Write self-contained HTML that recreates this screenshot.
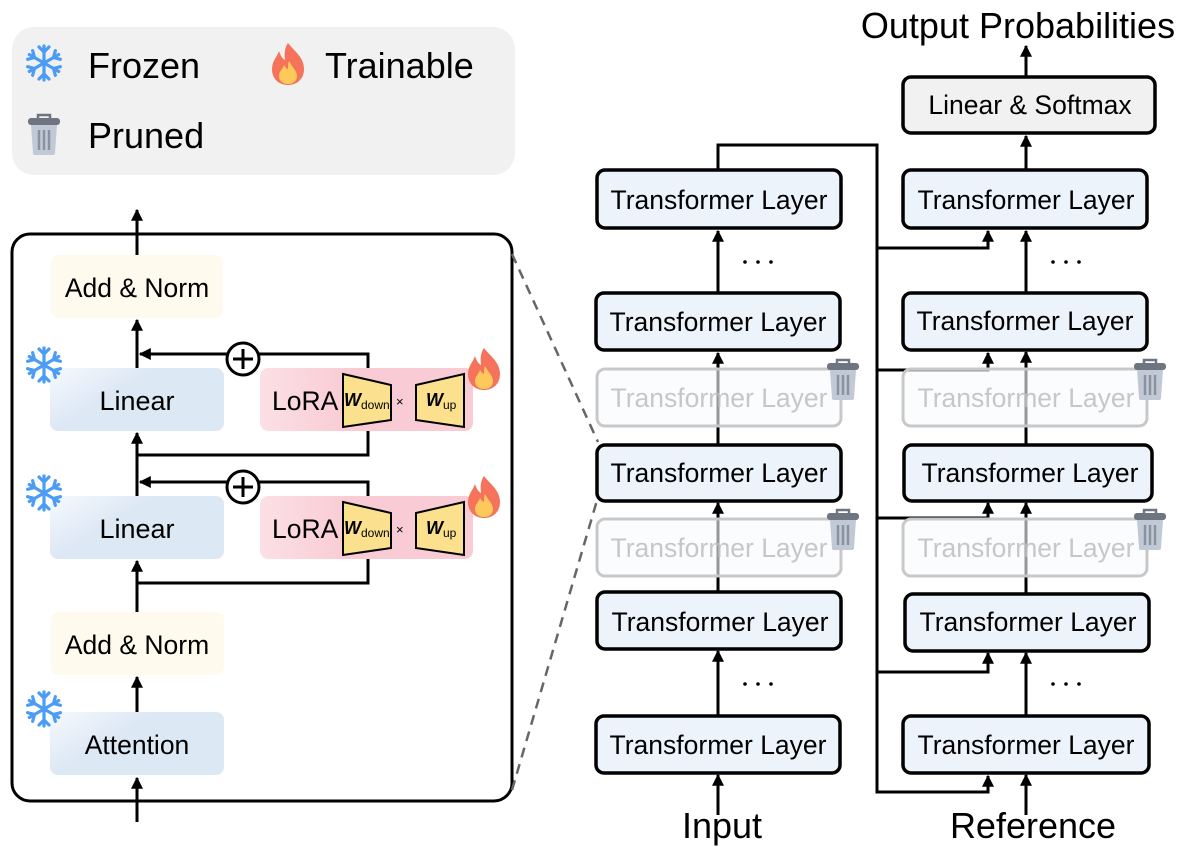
<!DOCTYPE html>
<html><head><meta charset="utf-8"><style>
html,body{margin:0;padding:0;background:#fff;}
svg{display:block;font-family:"Liberation Sans",Arial,sans-serif;}
</style></head><body>
<svg width="1187" height="847" viewBox="0 0 1187 847" xmlns="http://www.w3.org/2000/svg">
<defs>
<marker id="ah" viewBox="0 0 10 10" refX="9" refY="5" markerWidth="4" markerHeight="4" orient="auto" markerUnits="strokeWidth">
<path d="M0,0 L10,5 L0,10 z" fill="#000"/></marker>
<linearGradient id="blu" x1="0" y1="0" x2="1" y2="0.6">
<stop offset="0" stop-color="#f6f9fd"/><stop offset="0.45" stop-color="#dde8f5"/><stop offset="1" stop-color="#dde8f5"/></linearGradient>
<linearGradient id="pnk" x1="0" y1="0" x2="1" y2="0">
<stop offset="0" stop-color="#fbe0e6"/><stop offset="0.4" stop-color="#f9ccd5"/><stop offset="1" stop-color="#f9ccd5"/></linearGradient>
<g id="snow" stroke="#4a9cf5" stroke-width="3.2" stroke-linecap="round" fill="none">
<g id="arm"><line x1="0" y1="-17" x2="0" y2="17"/><polyline points="-5,-16 0,-11 5,-16"/><polyline points="-5,16 0,11 5,16"/></g>
<use href="#arm" transform="rotate(60)"/><use href="#arm" transform="rotate(-60)"/>
</g>
<g id="fire">
<path d="M0,-22 C6,-14 16,-8 16,4 C16,14 9,20 0,20 C-9,20 -16,14 -16,4 C-16,-4 -11,-8 -9,-14 C-7,-8 -5,-6 -3,-5 C-4,-12 -3,-18 0,-22 z" fill="#f4735a"/>
<path d="M1,-4 C4,2 9,6 9,11 C9,16 5,19 0,19 C-5,19 -9,16 -9,11 C-9,6 -5,4 -4,0 C-2,3 -1,4 0,4 C0,1 0,-2 1,-4 z" fill="#fdc95a"/>
</g>
<g id="trash">
<path d="M-6,-17 L-6,-20 L6,-20 L6,-17" fill="none" stroke="#6e7480" stroke-width="2.5"/>
<rect x="-16" y="-17" width="32" height="7" rx="3" fill="#6e7480"/>
<path d="M-13,-10 L13,-10 L11,18 Q11,20 9,20 L-9,20 Q-11,20 -11,18 z" fill="#c2c9d6"/>
<line x1="-5" y1="-5" x2="-5" y2="15" stroke="#8a92a0" stroke-width="2.5"/>
<line x1="0" y1="-5" x2="0" y2="15" stroke="#8a92a0" stroke-width="2.5"/>
<line x1="5" y1="-5" x2="5" y2="15" stroke="#8a92a0" stroke-width="2.5"/>
</g>
</defs>

<!-- legend -->
<rect x="12" y="27" width="503" height="148" rx="22" fill="#f1f1f1"/>
<use href="#snow" x="44" y="63"/>
<text x="88" y="78" font-size="36">Frozen</text>
<use href="#fire" x="288" y="65"/>
<text x="325" y="78" font-size="36">Trainable</text>
<use href="#trash" x="44" y="135"/>
<text x="88" y="148" font-size="36">Pruned</text>

<!-- left detail box -->
<rect x="12" y="234" width="500" height="567" rx="18" fill="none" stroke="#000" stroke-width="3"/>
<line x1="512" y1="254" x2="598" y2="442" stroke="#666" stroke-width="2.5" stroke-dasharray="10,7"/>
<line x1="512" y1="790" x2="598" y2="497" stroke="#666" stroke-width="2.5" stroke-dasharray="10,7"/>

<g stroke="#000" stroke-width="3" fill="none">
<line x1="137" y1="255" x2="137" y2="210" marker-end="url(#ah)"/>
<line x1="137" y1="368" x2="137" y2="320" marker-end="url(#ah)"/>
<polyline points="368,368 368,354 140,354" marker-end="url(#ah)"/>
<polyline points="368,431 368,455 137,455"/>
<line x1="137" y1="496" x2="137" y2="433" marker-end="url(#ah)"/>
<polyline points="368,496 368,482 140,482" marker-end="url(#ah)"/>
<polyline points="368,558 368,583 137,583"/>
<line x1="137" y1="612" x2="137" y2="561" marker-end="url(#ah)"/>
<line x1="137" y1="712" x2="137" y2="677" marker-end="url(#ah)"/>
<line x1="137" y1="822" x2="137" y2="778" marker-end="url(#ah)"/>
</g>

<rect x="51" y="255" width="172" height="63" rx="8" fill="#fefaee"/>
<text x="137" y="297" font-size="26.5" text-anchor="middle">Add &amp; Norm</text>
<rect x="50" y="368" width="174" height="63" rx="8" fill="url(#blu)"/>
<text x="137" y="410" font-size="27" text-anchor="middle">Linear</text>
<rect x="50" y="496" width="174" height="63" rx="8" fill="url(#blu)"/>
<text x="137" y="538" font-size="27" text-anchor="middle">Linear</text>
<rect x="51" y="612" width="173" height="63" rx="8" fill="#fefaee"/>
<text x="137" y="654" font-size="26.5" text-anchor="middle">Add &amp; Norm</text>
<rect x="50" y="712" width="174" height="63" rx="8" fill="url(#blu)"/>
<text x="137" y="754" font-size="26.5" text-anchor="middle">Attention</text>
<use href="#snow" x="44" y="365"/>
<use href="#snow" x="44" y="493"/>
<use href="#snow" x="44" y="709"/>

<!-- LoRA blocks -->
<g id="lora1">
<rect x="260" y="368" width="213" height="63" rx="8" fill="url(#pnk)"/>
<text x="272" y="410" font-size="26.5">LoRA</text>
<polygon points="343,374 391,385 391,420 343,427" fill="#fbe08e" stroke="#000" stroke-width="2"/>
<text x="344" y="406" font-size="18" font-weight="bold" font-style="italic">W<tspan font-size="12" font-weight="normal" font-style="normal" dy="3">down</tspan></text>
<text x="396" y="406" font-size="13">×</text>
<polygon points="416,385 464,374 464,427 416,420" fill="#fbe08e" stroke="#000" stroke-width="2"/>
<text x="426" y="406" font-size="18" font-weight="bold" font-style="italic">W<tspan font-size="12" font-weight="normal" font-style="normal" dy="3">up</tspan></text>
<use href="#fire" x="484" y="370"/>
</g>
<use href="#lora1" y="128"/>
<g stroke="#000" stroke-width="3" fill="#fff">
<circle cx="243" cy="359" r="16"/><circle cx="243" cy="487" r="16"/>
<path d="M233,359 h20 M243,349 v20 M233,487 h20 M243,477 v20" fill="none"/>
</g>

<!-- right side connectors -->
<g stroke="#000" stroke-width="3" fill="none">
<line x1="1026" y1="77" x2="1026" y2="46" marker-end="url(#ah)"/>
<line x1="1026" y1="170" x2="1026" y2="136" marker-end="url(#ah)"/>
<polyline points="718,170 718,145 877,145 877,792 988,792 988,776" marker-end="url(#ah)"/>
<polyline points="877,248 988,248 988,231" marker-end="url(#ah)"/>
<polyline points="877,370 988,370 988,353" marker-end="url(#ah)"/>
<polyline points="877,518 988,518 988,503" marker-end="url(#ah)"/>
<polyline points="877,672 988,672 988,653" marker-end="url(#ah)"/>
<line x1="718" y1="293" x2="718" y2="231" marker-end="url(#ah)"/>
<line x1="718" y1="445" x2="718" y2="353" marker-end="url(#ah)"/>
<line x1="718" y1="592" x2="718" y2="503" marker-end="url(#ah)"/>
<line x1="718" y1="716" x2="718" y2="651" marker-end="url(#ah)"/>
<line x1="718" y1="815" x2="718" y2="775" marker-end="url(#ah)"/>
<line x1="1026" y1="293" x2="1026" y2="231" marker-end="url(#ah)"/>
<line x1="1026" y1="445" x2="1026" y2="352" marker-end="url(#ah)"/>
<line x1="1026" y1="594" x2="1026" y2="503" marker-end="url(#ah)"/>
<line x1="1026" y1="716" x2="1026" y2="653" marker-end="url(#ah)"/>
<line x1="1026" y1="815" x2="1026" y2="775" marker-end="url(#ah)"/>
</g>
<g fill="#000">
<circle cx="745" cy="262" r="1.8"/><circle cx="758" cy="262" r="1.8"/><circle cx="771" cy="262" r="1.8"/>
<circle cx="745" cy="684" r="1.8"/><circle cx="758" cy="684" r="1.8"/><circle cx="771" cy="684" r="1.8"/>
<circle cx="1053" cy="262" r="1.8"/><circle cx="1066" cy="262" r="1.8"/><circle cx="1079" cy="262" r="1.8"/>
<circle cx="1053" cy="684" r="1.8"/><circle cx="1066" cy="684" r="1.8"/><circle cx="1079" cy="684" r="1.8"/>
</g>

<!-- pruned boxes -->
<g fill="#f8fafd" fill-opacity="0.6" stroke="#c8c8c8" stroke-width="3">
<rect x="597" y="369" width="244" height="57" rx="8"/>
<rect x="597" y="519" width="244" height="57" rx="8"/>
<rect x="903" y="369" width="244" height="57" rx="8"/>
<rect x="903" y="519" width="244" height="57" rx="8"/>
</g>
<g font-size="26.5" fill="#bdbdbd" fill-opacity="0.85" text-anchor="middle">
<text x="719" y="407">Transformer Layer</text><text x="719" y="557">Transformer Layer</text>
<text x="1026" y="407">Transformer Layer</text><text x="1026" y="557">Transformer Layer</text>
</g>
<use href="#trash" x="843" y="380"/><use href="#trash" x="843" y="530"/>
<use href="#trash" x="1150" y="380"/><use href="#trash" x="1150" y="530"/>

<!-- active boxes -->
<g fill="#edf3fb" stroke="#000" stroke-width="3.5">
<rect x="597" y="170" width="244" height="58" rx="8"/>
<rect x="596" y="293" width="244" height="57" rx="8"/>
<rect x="597" y="445" width="244" height="56" rx="8"/>
<rect x="597" y="592" width="244" height="57" rx="8"/>
<rect x="596" y="716" width="244" height="57" rx="8"/>
<rect x="903" y="170" width="244" height="58" rx="8"/>
<rect x="903" y="293" width="244" height="57" rx="8"/>
<rect x="904" y="445" width="248" height="56" rx="8"/>
<rect x="905" y="594" width="244" height="57" rx="8"/>
<rect x="903" y="716" width="246" height="57" rx="8"/>
</g>
<rect x="903" y="77" width="252" height="56" rx="8" fill="#f1f1f1" stroke="#000" stroke-width="3.5"/>
<g font-size="26.5" fill="#000" text-anchor="middle">
<text x="1030" y="114">Linear &amp; Softmax</text>
<text x="719" y="209">Transformer Layer</text>
<text x="718" y="331">Transformer Layer</text>
<text x="719" y="482">Transformer Layer</text>
<text x="720" y="631">Transformer Layer</text>
<text x="718" y="754">Transformer Layer</text>
<text x="1026" y="209">Transformer Layer</text>
<text x="1025" y="330">Transformer Layer</text>
<text x="1030" y="482">Transformer Layer</text>
<text x="1028" y="631">Transformer Layer</text>
<text x="1026" y="754">Transformer Layer</text>
</g>
<g font-size="36" fill="#000" text-anchor="middle">
<text x="1018" y="38">Output Probabilities</text>
<text x="722" y="838">Input</text>
<text x="1033" y="838">Reference</text>
</g>
</svg>
</body></html>
